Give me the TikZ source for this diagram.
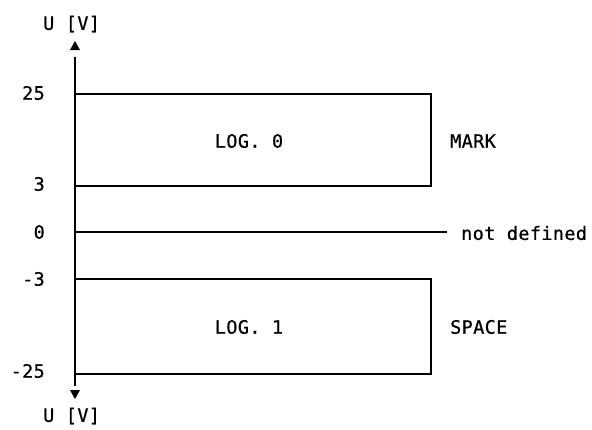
\documentclass[tikz,border=0pt]{standalone}
\usepackage{fontspec}
\setmainfont{DejaVu Sans Mono}[LetterSpace=2,FakeBold=0.6]
\begin{document}
\begin{tikzpicture}[x=1pt,y=-1pt,
  lbl/.style={inner sep=0pt,font=\fontsize{18.5}{21}\selectfont},
  ln/.style={line width=1.1pt},
  tri/.style={fill=black,draw=none}]
\useasboundingbox (0,0) rectangle (592,429);
% axis
\coordinate (atop) at (75,57);
\coordinate (abot) at (75,386);
\draw[line width=1.5pt] (atop) -- (abot);
\fill[tri] (75,41) -- (80,50) -- (70,50) -- cycle;
\fill[tri] (75,399) -- (80,390) -- (70,390) -- cycle;
% levels
\coordinate (p25) at (75,94);
\coordinate (p3) at (75,186);
\coordinate (p0) at (75,232);
\coordinate (m3) at (75,279);
\coordinate (m25) at (75,374);
\coordinate (r25) at (431,94);
\coordinate (r3) at (431,186);
\coordinate (z0) at (447,232);
\coordinate (rm3) at (431,279);
\coordinate (rm25) at (431,374);
\draw[ln] (p25) -- (r25) -- (r3) -- (p3);
\draw[ln] (m3) -- (rm3) -- (rm25) -- (m25);
\draw[ln] (p0) -- (z0);
% axis labels
\node[lbl,anchor=west] (utop) at (43,24) {U [V]};
\node[lbl,anchor=west] (ubot) at (43,416) {U [V]};
\node[lbl,anchor=east] (t25) at (45,93) {25};
\node[lbl,anchor=east] (t3) at (45,184) {3};
\node[lbl,anchor=east] (t0) at (45,232) {0};
\node[lbl,anchor=east] (tm3) at (45,279) {-3};
\node[lbl,anchor=east] (tm25) at (45,371) {-25};
% box labels
\node[lbl] (log0) at (249,141) {LOG. 0};
\node[lbl] (log1) at (249,327) {LOG. 1};
\node[lbl,anchor=west] (mark) at (450,141) {MARK};
\node[lbl,anchor=west] (space) at (450,327) {SPACE};
\node[lbl,anchor=west] (nd) at (461,233) {not defined};
\end{tikzpicture}
\end{document}
